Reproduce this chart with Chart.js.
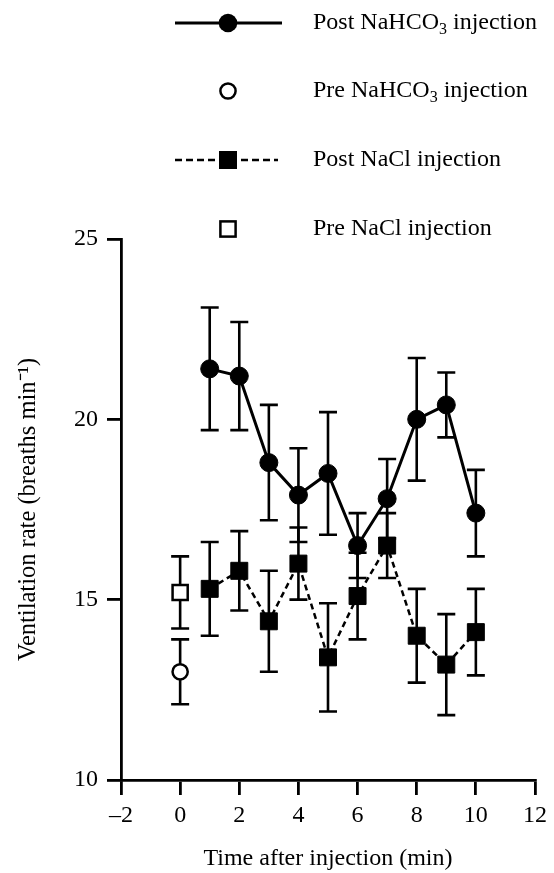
<!DOCTYPE html>
<html>
<head>
<meta charset="utf-8">
<script src="https://cdn.jsdelivr.net/npm/chart.js@4.4.1/dist/chart.umd.min.js"></script>
<style>
  html, body { margin: 0; padding: 0; background: #fff; }
  #wrap { width: 554px; height: 873px; position: relative; }
</style>
</head>
<body>
<div id="wrap"><canvas id="c" width="554" height="873"></canvas></div>
<script>
// ---- data ----
const timePost = [1, 2, 3, 4, 5, 6, 7, 8, 9, 10];
const timePre = [0];
const nahco3Post = [21.4, 21.2, 18.8, 17.9, 18.5, 16.5, 17.8, 20.0, 20.4, 17.4];
const nahco3PostSE = [1.7, 1.5, 1.6, 1.3, 1.7, 0.9, 1.1, 1.7, 0.9, 1.2];
const nahco3Pre = [13.0];
const nahco3PreSE = [0.9];
const naclPost = [15.3, 15.8, 14.4, 16.0, 13.4, 15.1, 16.5, 14.0, 13.2, 14.1];
const naclPostSE = [1.3, 1.1, 1.4, 1.0, 1.5, 1.2, 0.9, 1.3, 1.4, 1.2];
const naclPre = [15.2];
const naclPreSE = [1.0];
const xTicks = [-2, 0, 2, 4, 6, 8, 10, 12];
const yTicks = [10, 15, 20, 25];
const legendLabels = [
  ['Post NaHCO', '3', ' injection'],
  ['Pre NaHCO', '3', ' injection'],
  ['Post NaCl injection'],
  ['Pre NaCl injection']
];
const xTitle = 'Time after injection (min)';
const yTitle = 'Ventilation rate (breaths min\u207B\u00B9)';

const FONT = '"Liberation Serif", "Times New Roman", serif';

function pts(xs, ys) { return xs.map((x, i) => ({ x: x, y: ys[i] })); }

const errorSets = [
  { xs: timePost, ys: nahco3Post, se: nahco3PostSE },
  { xs: timePre, ys: nahco3Pre, se: nahco3PreSE },
  { xs: timePost, ys: naclPost, se: naclPostSE },
  { xs: timePre, ys: naclPre, se: naclPreSE }
];

const errorBarPlugin = {
  id: 'errorBars',
  beforeDatasetsDraw(chart) {
    const ctx = chart.ctx, xs = chart.scales.x, ys = chart.scales.y;
    ctx.save();
    ctx.strokeStyle = '#000';
    ctx.lineWidth = 2.6;
    ctx.lineCap = 'butt';
    const cap = 9;
    errorSets.forEach(s => {
      s.xs.forEach((xv, i) => {
        const px = xs.getPixelForValue(xv);
        const top = ys.getPixelForValue(s.ys[i] + s.se[i]);
        const bot = ys.getPixelForValue(s.ys[i] - s.se[i]);
        ctx.beginPath();
        ctx.moveTo(px, top); ctx.lineTo(px, bot);
        ctx.moveTo(px - cap, top); ctx.lineTo(px + cap, top);
        ctx.moveTo(px - cap, bot); ctx.lineTo(px + cap, bot);
        ctx.stroke();
      });
    });
    ctx.restore();
  }
};

const legendPlugin = {
  id: 'customLegend',
  afterDraw(chart) {
    const ctx = chart.ctx;
    ctx.save();
    const rowsY = [23, 91, 160, 229];
    const symX = 228, lineL = 175, lineR = 282, textX = 313;
    ctx.strokeStyle = '#000';
    ctx.fillStyle = '#000';
    // row 0: solid line + filled circle
    ctx.lineWidth = 3;
    ctx.beginPath(); ctx.moveTo(lineL, rowsY[0]); ctx.lineTo(lineR, rowsY[0]); ctx.stroke();
    ctx.beginPath(); ctx.arc(symX, rowsY[0], 9.3, 0, Math.PI * 2); ctx.fill();
    // row 1: open circle
    ctx.lineWidth = 2.5;
    ctx.beginPath(); ctx.arc(symX, rowsY[1], 7.6, 0, Math.PI * 2);
    ctx.fillStyle = '#fff'; ctx.fill(); ctx.stroke();
    // row 2: dashed line + filled square
    ctx.fillStyle = '#000';
    ctx.lineWidth = 2.5;
    ctx.setLineDash([7, 4]);
    ctx.beginPath(); ctx.moveTo(lineL, rowsY[2]); ctx.lineTo(lineR - 4, rowsY[2]); ctx.stroke();
    ctx.setLineDash([]);
    ctx.fillRect(symX - 9, rowsY[2] - 9, 18, 18);
    // row 3: open square
    ctx.lineWidth = 2.5;
    ctx.fillStyle = '#fff';
    ctx.fillRect(symX - 7.6, rowsY[3] - 7.6, 15.2, 15.2);
    ctx.strokeRect(symX - 7.6, rowsY[3] - 7.6, 15.2, 15.2);
    // text
    ctx.fillStyle = '#000';
    ctx.textBaseline = 'alphabetic';
    ctx.textAlign = 'left';
    legendLabels.forEach((parts, r) => {
      let x = textX;
      const base = rowsY[r] + 6;
      parts.forEach((p, j) => {
        const sub = parts.length === 3 && j === 1;
        ctx.font = (sub ? '16px ' : '24px ') + FONT;
        ctx.fillText(p, x, base + (sub ? 5 : 0));
        x += ctx.measureText(p).width;
      });
    });
    ctx.restore();
  }
};

new Chart(document.getElementById('c'), {
  type: 'scatter',
  data: {
    datasets: [
      {
        label: 'Post NaHCO3 injection',
        data: pts(timePost, nahco3Post),
        showLine: true,
        borderColor: '#000',
        borderWidth: 3,
        pointStyle: 'circle',
        pointRadius: 9,
        pointBackgroundColor: '#000',
        pointBorderColor: '#000',
        pointBorderWidth: 1
      },
      {
        label: 'Pre NaHCO3 injection',
        data: pts(timePre, nahco3Pre),
        showLine: false,
        pointStyle: 'circle',
        pointRadius: 7.6,
        pointBackgroundColor: '#fff',
        pointBorderColor: '#000',
        pointBorderWidth: 2.5
      },
      {
        label: 'Post NaCl injection',
        data: pts(timePost, naclPost),
        showLine: true,
        borderColor: '#000',
        borderWidth: 2.5,
        borderDash: [6, 4],
        pointStyle: 'rect',
        pointRadius: 12,
        pointBackgroundColor: '#000',
        pointBorderColor: '#000',
        pointBorderWidth: 1
      },
      {
        label: 'Pre NaCl injection',
        data: pts(timePre, naclPre),
        showLine: false,
        pointStyle: 'rect',
        pointRadius: 10.7,
        pointBackgroundColor: '#fff',
        pointBorderColor: '#000',
        pointBorderWidth: 2.5
      }
    ]
  },
  options: {
    responsive: false,
    animation: false,
    layout: { padding: { top: 239, right: 19, left: 0, bottom: 0 } },
    plugins: {
      legend: { display: false },
      tooltip: { enabled: false },
      title: { display: false }
    },
    scales: {
      x: {
        type: 'linear',
        min: -2, max: 12,
        afterFit(scale) { scale.height = 93; },
        afterBuildTicks(scale) { scale.ticks = xTicks.map(v => ({ value: v })); },
        border: { display: true, color: '#000', width: 2.8 },
        grid: { display: true, drawOnChartArea: false, drawTicks: true, tickLength: 15, color: '#000', lineWidth: 2.8 },
        ticks: {
          color: '#000', padding: 6, maxRotation: 0,
          font: { family: FONT, size: 24 },
          callback: v => (v < 0 ? '\u2013' + Math.abs(v) : String(v))
        },
        title: {
          display: true, text: xTitle, color: '#000',
          font: { family: FONT, size: 24 },
          padding: { top: 0, bottom: 0 }
        }
      },
      y: {
        type: 'linear',
        min: 10, max: 25,
        afterFit(scale) { scale.width = 121; },
        afterBuildTicks(scale) { scale.ticks = yTicks.map(v => ({ value: v })); },
        border: { display: true, color: '#000', width: 2.8 },
        grid: { display: true, drawOnChartArea: false, drawTicks: true, tickLength: 14, color: '#000', lineWidth: 2.8 },
        ticks: {
          color: '#000', padding: 9,
          font: { family: FONT, size: 24 }
        },
        title: {
          display: true, text: yTitle, color: '#000',
          font: { family: FONT, size: 24.5 },
          padding: { top: 14, bottom: 0 }
        }
      }
    }
  },
  plugins: [errorBarPlugin, legendPlugin]
});
</script>
</body>
</html>
